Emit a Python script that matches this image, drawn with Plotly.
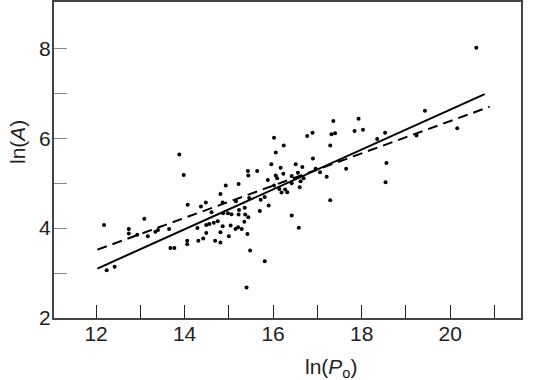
import plotly.graph_objects as go

# observed points: ln(Po) and ln(A)
ln_po = [
    12.18, 12.24, 12.42, 12.74, 12.74, 12.93, 13.09, 13.17, 13.34, 13.40,
    13.65, 13.68, 13.77, 13.88, 13.98, 14.07, 14.06, 14.06, 14.29, 14.31,
    14.37, 14.48, 14.42, 14.49, 14.49, 14.56, 14.61, 14.66, 14.69, 14.75,
    14.81, 14.81, 14.81, 14.86, 14.86, 14.87, 14.93, 14.98, 15.06, 15.00,
    15.04, 15.15, 15.16, 15.22, 15.21, 15.22, 15.23, 15.29, 15.35, 15.36,
    15.37, 15.42, 15.44, 15.46, 15.43, 15.44, 15.48, 15.40, 15.64, 15.70,
    15.72, 15.81, 15.81, 15.88, 15.90, 15.96, 16.02, 16.02, 16.06, 16.06,
    16.09, 16.14, 16.17, 16.19, 16.23, 16.24, 16.27, 16.32, 16.42, 16.42,
    16.42, 16.51, 16.56, 16.58, 16.62, 16.66, 16.69, 16.77, 16.89, 16.90,
    16.96, 17.06, 17.21, 17.29, 17.29, 17.32, 17.40, 17.36, 17.65, 17.84,
    17.93, 18.03, 18.35, 18.53, 18.56, 18.54, 19.24, 19.43, 20.16, 20.59,
    16.60,
]
ln_a = [
    4.07, 3.06, 3.14, 3.98, 3.88, 3.85, 4.21, 3.82, 3.92, 3.96,
    3.98, 3.56, 3.56, 5.64, 5.18, 4.52, 3.72, 3.64, 4.00, 3.72,
    4.48, 4.57, 3.77, 3.89, 4.07, 4.09, 4.35, 4.12, 3.72, 4.15,
    3.68, 3.91, 4.76, 4.57, 4.04, 4.33, 4.95, 4.33, 4.31, 3.82,
    4.06, 3.98, 4.60, 4.30, 4.02, 4.98, 4.40, 3.98, 4.14, 4.45,
    4.30, 3.87, 4.24, 4.67, 5.27, 5.17, 3.50, 2.68, 5.27, 4.38,
    4.63, 4.69, 3.26, 5.07, 4.50, 5.42, 4.95, 6.01, 5.68, 5.17,
    5.11, 4.87, 5.34, 4.79, 5.21, 5.84, 4.86, 4.80, 5.16, 5.00,
    4.28, 5.42, 5.23, 4.01, 5.04, 5.36, 5.11, 6.05, 6.12, 5.55,
    5.32, 5.24, 5.14, 5.84, 4.62, 6.09, 6.11, 6.38, 5.32, 6.16,
    6.43, 6.19, 5.98, 6.12, 5.45, 5.02, 6.06, 6.61, 6.22, 8.01,
    4.91,
]

# fitted lines (end points)
solid_x = [12.03, 20.78]
solid_y = [3.10, 6.98]
dash_x = [12.03, 20.89]
dash_y = [3.52, 6.70]

font_name = "Liberation Sans, Arial, sans-serif"

fig = go.Figure()
fig.add_trace(go.Scatter(x=solid_x, y=solid_y, mode='lines',
                         line=dict(color='black', width=2)))
fig.add_trace(go.Scatter(x=dash_x, y=dash_y, mode='lines',
                         line=dict(color='black', width=2, dash='10px,6px')))
fig.add_trace(go.Scatter(x=ln_po, y=ln_a, mode='markers',
                         marker=dict(color='black', size=4)))

fig.update_layout(
    width=533, height=380,
    margin=dict(l=54, r=12, t=2, b=62),
    paper_bgcolor='white', plot_bgcolor='white',
    showlegend=False,
    font=dict(family=font_name, size=21, color='#222'),
    xaxis=dict(
        range=[11.05, 21.6], tickvals=[12, 14, 16, 18, 20],
        ticks='inside', ticklen=13, tickwidth=1.3, tickcolor='#222',
        ticklabelstandoff=-4,
        minor=dict(tickvals=[13, 15, 17, 19, 21], ticks='inside', ticklen=13,
                   tickwidth=1.3, tickcolor='#222'),
        showgrid=False, zeroline=False, automargin=False,
        showline=True, linecolor='#444', linewidth=2, mirror=True,
    ),
    yaxis=dict(
        range=[2, 9.03], tickvals=[2, 4, 6, 8],
        ticks='inside', ticklen=13, tickwidth=1.3, tickcolor='#888',
        ticklabelstandoff=-3,
        minor=dict(tickvals=[3, 5, 7], ticks='inside', ticklen=13,
                   tickwidth=1.3, tickcolor='#888'),
        showgrid=False, zeroline=False, automargin=False,
        showline=True, linecolor='#444', linewidth=2, mirror=True,
    ),
    annotations=[
        dict(text='ln(<i>P</i><sub>o</sub>)', xref='paper', yref='paper',
             x=0.595, y=-0.11, xanchor='center', yanchor='top',
             showarrow=False, font=dict(size=21)),
        dict(text='ln(<i>A</i>)', xref='paper', yref='paper',
             x=-0.077, y=0.557, xanchor='center', yanchor='middle',
             textangle=-90, showarrow=False, font=dict(size=21)),
    ],
)

# drop the browser's default page margin so the figure sits at the corner
fig.write_html("out.html", config={'displayModeBar': False},
               post_script="document.body.style.margin='0';")
